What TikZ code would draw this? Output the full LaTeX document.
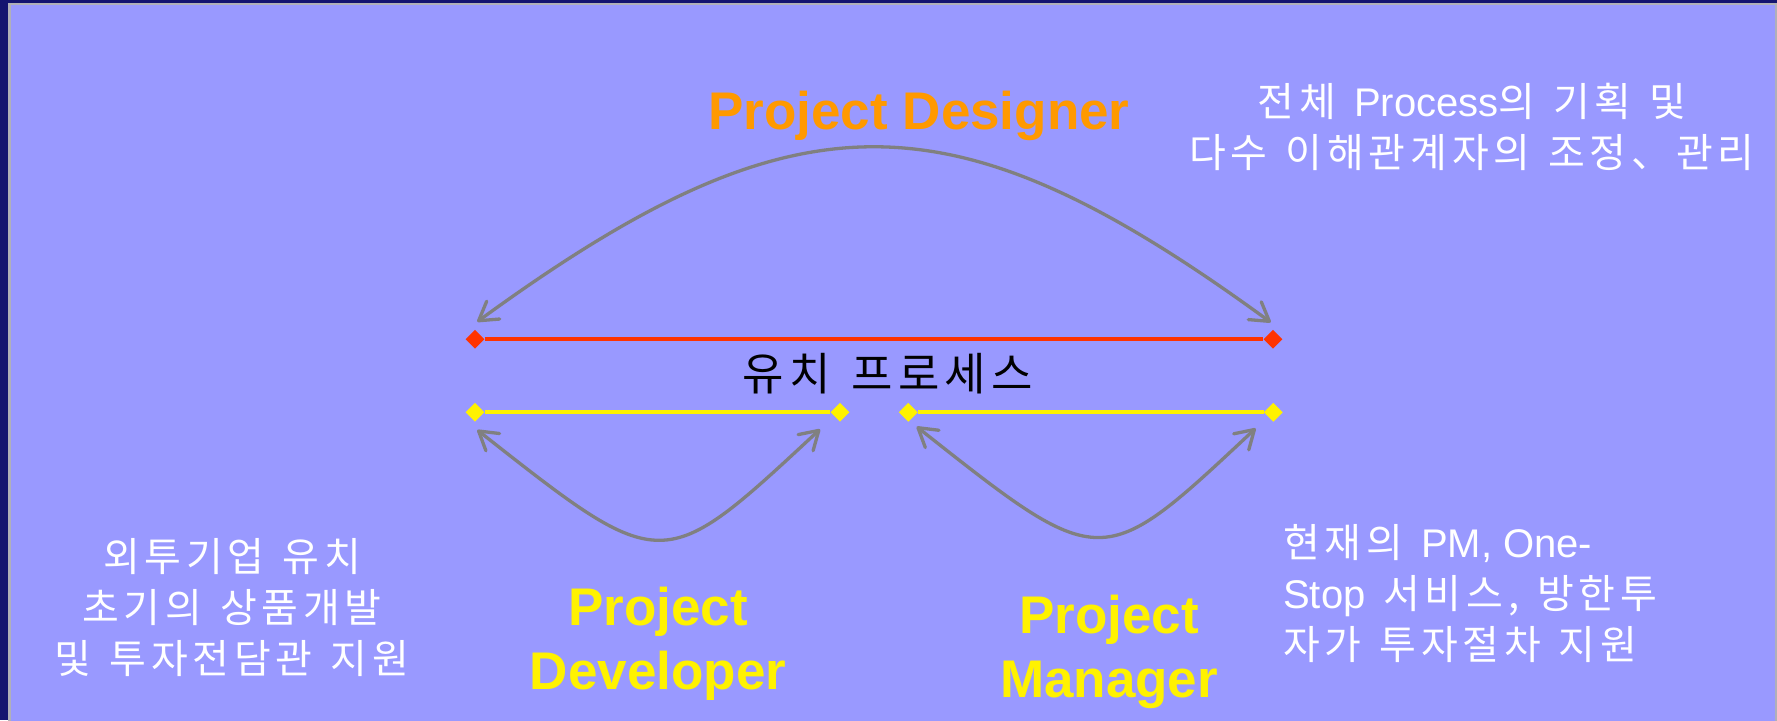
\documentclass[tikz,border=0pt]{standalone}
\usepackage{fontspec}
\setmainfont{Liberation Sans}
\newfontfamily\krfont[WordSpace=1.3, LetterSpace=12]{Noto Sans CJK KR}
\newfontfamily\latfont{Liberation Sans}
\usepackage{xcolor}
\usetikzlibrary{arrows.meta}
\usetikzlibrary{shapes.geometric}
\definecolor{SlideNavy}{HTML}{141470}
\definecolor{SlideBlue}{HTML}{9999FF}
\definecolor{FrameGray}{HTML}{B0B0B8}
\definecolor{LineRed}{HTML}{FF3300}
\definecolor{TitleOrange}{HTML}{FF9900}
\definecolor{ArcGray}{HTML}{808080}

\begin{document}
\begin{tikzpicture}[x=1pt, y=-1pt,
  endmark/.style={diamond, fill=#1, inner sep=0, minimum size=19pt},
  stage/.style={draw=#1, line width=4pt},
  role/.style={font=\bfseries\fontsize{53}{64}\selectfont, text=#1, align=center, inner sep=0},
  note/.style={font=\krfont\fontsize{40}{51}\selectfont, text=white, inner sep=0},
  bow/.style={draw=ArcGray, line width=3.3pt,
    {Straight Barb[length=18pt,width=22pt,round]}-{Straight Barb[length=18pt,width=22pt,round]}}]

  % slide background and frame
  \clip (0,0) rectangle (1777,720);
  \fill[SlideNavy] (0,0) rectangle (1777,720);
  \filldraw[fill=SlideBlue, draw=FrameGray, line width=2.5pt] (9.5,4) rectangle (1776,730);

  % process bars
  \node[endmark=LineRed] (redL) at (475,339.3) {};
  \node[endmark=LineRed] (redR) at (1273,339.3) {};
  \draw[stage=LineRed] (redL) -- (redR);
  \node[endmark=yellow] (devL) at (475,412.3) {};
  \node[endmark=yellow] (devR) at (840,412.3) {};
  \draw[stage=yellow] (devL) -- (devR);
  \node[endmark=yellow] (mgrL) at (908.3,412.3) {};
  \node[endmark=yellow] (mgrR) at (1273.3,412.3) {};
  \draw[stage=yellow] (mgrL) -- (mgrR);
  \node[note, text=black, font=\krfont\fontsize{45}{54}\selectfont, anchor=north]
    (process) at (888,353) {유치 프로세스};

  % span arrows
  \coordinate (desA) at (477.3,321.7); \coordinate (desB) at (1270.7,322.3);
  \draw[bow] (desA) .. controls (797,89) and (951,89) .. (desB);
  \coordinate (devA) at (477.3,430); \coordinate (devB) at (820,429.3);
  \draw[bow] (devA) .. controls (664,577) and (662,576) .. (devB);
  \coordinate (mgrA) at (916.7,426.7); \coordinate (mgrB) at (1255.6,428.4);
  \draw[bow] (mgrA) .. controls (1103,574) and (1101,573) .. (mgrB);

  % roles
  \node[role=TitleOrange, anchor=base] (designer) at (919,129.5) {Project Designer};
  \node[role=yellow, anchor=north] (developer) at (658,587) {Project\\Developer};
  \node[role=yellow, anchor=north] (manager) at (1109,595) {Project\\Manager};

  % role notes
  \node[note, align=center, anchor=north] (designerNote) at (1472,83)
    {전체 {\latfont Process}의 기획 및\\다수 이해관계자의 조정、관리};
  \node[note, align=center, anchor=north] (developerNote) at (232,538)
    {외투기업 유치\\초기의 상품개발\\및 투자전담관 지원};
  \node[note, align=left, anchor=north west] (managerNote) at (1283,524)
    {현재의 {\latfont PM, One-}\\{\latfont Stop} 서비스, 방한투\\자가 투자절차 지원};

\end{tikzpicture}
\end{document}
